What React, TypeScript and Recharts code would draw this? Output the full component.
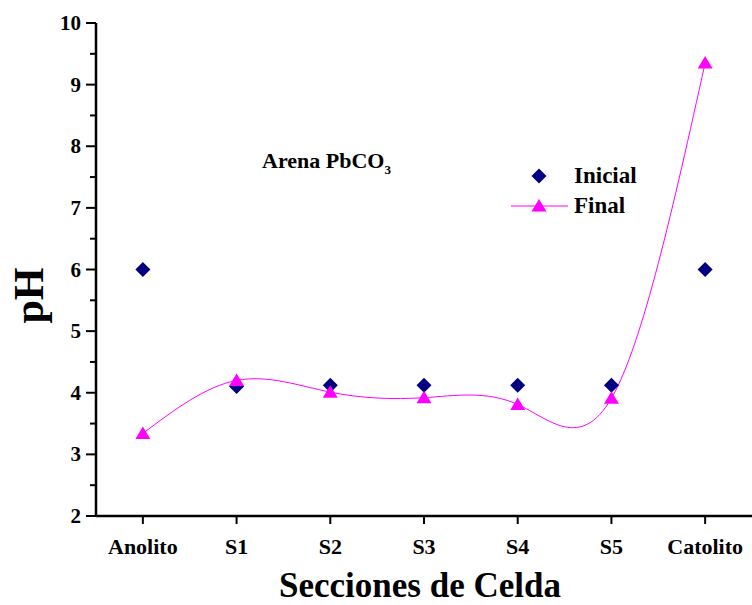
import React from 'react';
import { LineChart, Line, XAxis, YAxis } from 'recharts';

const categories = ['Anolito', 'S1', 'S2', 'S3', 'S4', 'S5', 'Catolito'];
const inicial = [6.0, 4.1, 4.12, 4.12, 4.12, 4.12, 6.0];
const final = [3.34, 4.2, 4.01, 3.92, 3.81, 3.91, 9.35];
const yTicks = [2, 2.5, 3, 3.5, 4, 4.5, 5, 5.5, 6, 6.5, 7, 7.5, 8, 8.5, 9, 9.5, 10];
const xTicks = [0, 1, 2, 3, 4, 5, 6];

const data = categories.map((c, i) => ({ x: i, name: c, inicial: inicial[i], final: final[i] }));

const FONT = '"Liberation Serif", "DejaVu Serif", serif';
const NAVY = '#000080';
const MAGENTA = '#ff00ff';

const Diamond = (props: any) => {
  const { cx, cy } = props;
  if (cx == null || cy == null) return null;
  const r = 7.5;
  return <path d={`M${cx},${cy - r}L${cx + r},${cy}L${cx},${cy + r}L${cx - r},${cy}Z`} fill={NAVY} />;
};

const Triangle = (props: any) => {
  const { cx, cy } = props;
  if (cx == null || cy == null) return null;
  return <path d={`M${cx},${cy - 7}L${cx + 7.5},${cy + 5.5}L${cx - 7.5},${cy + 5.5}Z`} fill={MAGENTA} />;
};

const YTick = (props: any) => {
  const { x, y, payload } = props;
  const major = Number.isInteger(payload.value);
  return (
    <g>
      <line x1={x} x2={x - (major ? 10 : 6)} y1={y} y2={y} stroke="#000" strokeWidth={2} />
      {major && (
        <text x={x - 15} y={y} dy={7} textAnchor="end" fontFamily={FONT} fontWeight="bold" fontSize={21} fill="#000">
          {payload.value}
        </text>
      )}
    </g>
  );
};

const LegendBox = () => (
  <div style={{ fontFamily: FONT, fontWeight: 'bold', fontSize: 23, color: '#000', lineHeight: '30px' }}>
    <div style={{ display: 'flex', alignItems: 'center' }}>
      <svg width={60} height={30}>
        <path d="M28,7.5L35.5,15L28,22.5L20.5,15Z" fill={NAVY} />
      </svg>
      <span style={{ marginLeft: 3 }}>Inicial</span>
    </div>
    <div style={{ display: 'flex', alignItems: 'center' }}>
      <svg width={60} height={30}>
        <line x1={0} x2={57} y1={15} y2={15} stroke={MAGENTA} strokeWidth={1} />
        <path d="M28,8L35.5,20.5L20.5,20.5Z" fill={MAGENTA} />
      </svg>
      <span style={{ marginLeft: 3 }}>Final</span>
    </div>
  </div>
);

const App = () => {
  return (
    <div style={{ position: 'absolute', left: 0, top: 0, width: 752, height: 605, background: '#fff' }}>
      <LineChart width={752} height={605} data={data} margin={{ top: 23, right: 0, bottom: 0, left: 0 }}>
        <XAxis
          dataKey="x"
          type="number"
          domain={[-0.5, 6.5]}
          ticks={xTicks}
          tickFormatter={(v) => categories[v]}
          height={89}
          axisLine={{ stroke: '#000', strokeWidth: 2.5 }}
          tickLine={{ stroke: '#000', strokeWidth: 2 }}
          tickSize={8}
          tickMargin={14}
          tick={{ fontFamily: FONT, fontWeight: 'bold', fontSize: 22, fill: '#000' }}
          label={(props: any) => {
            const vb = props.viewBox;
            return (
              <text x={vb.x + vb.width / 2 - 4} y={vb.y + 81} textAnchor="middle" fontFamily={FONT} fontWeight="bold" fontSize={35} fill="#000">
                Secciones de Celda
              </text>
            );
          }}
        />
        <YAxis
          type="number"
          domain={[2, 10]}
          ticks={yTicks}
          interval={0}
          width={96}
          axisLine={{ stroke: '#000', strokeWidth: 2.5 }}
          tickLine={false}
          tickSize={0}
          tickMargin={0}
          tick={<YTick />}
          label={(props: any) => {
            const vb = props.viewBox;
            const cx = 43;
            const cy = vb.y + vb.height / 2 + 26;
            return (
              <text x={cx} y={cy} transform={`rotate(-90 ${cx} ${cy})`} textAnchor="middle" fontFamily={FONT} fontWeight="bold" fontSize={42} fill="#000">
                pH
              </text>
            );
          }}
        />
        <Line
          dataKey="inicial"
          stroke="none"
          dot={<Diamond />}
          activeDot={false}
          legendType="diamond"
          isAnimationActive={false}
        />
        <Line
          dataKey="final"
          type="natural"
          stroke={MAGENTA}
          strokeWidth={1}
          dot={<Triangle />}
          activeDot={false}
          isAnimationActive={false}
        />
      </LineChart>
      <div style={{ position: 'absolute', left: 511, top: 161 }}>
        <LegendBox />
      </div>
      <div
        style={{
          position: 'absolute',
          left: 262,
          top: 148,
          fontFamily: FONT,
          fontWeight: 'bold',
          fontSize: 22,
          color: '#000',
          whiteSpace: 'nowrap',
        }}
      >
        Arena PbCO<sub style={{ fontSize: 13, verticalAlign: -6 }}>3</sub>
      </div>
    </div>
  );
};

export default App;
